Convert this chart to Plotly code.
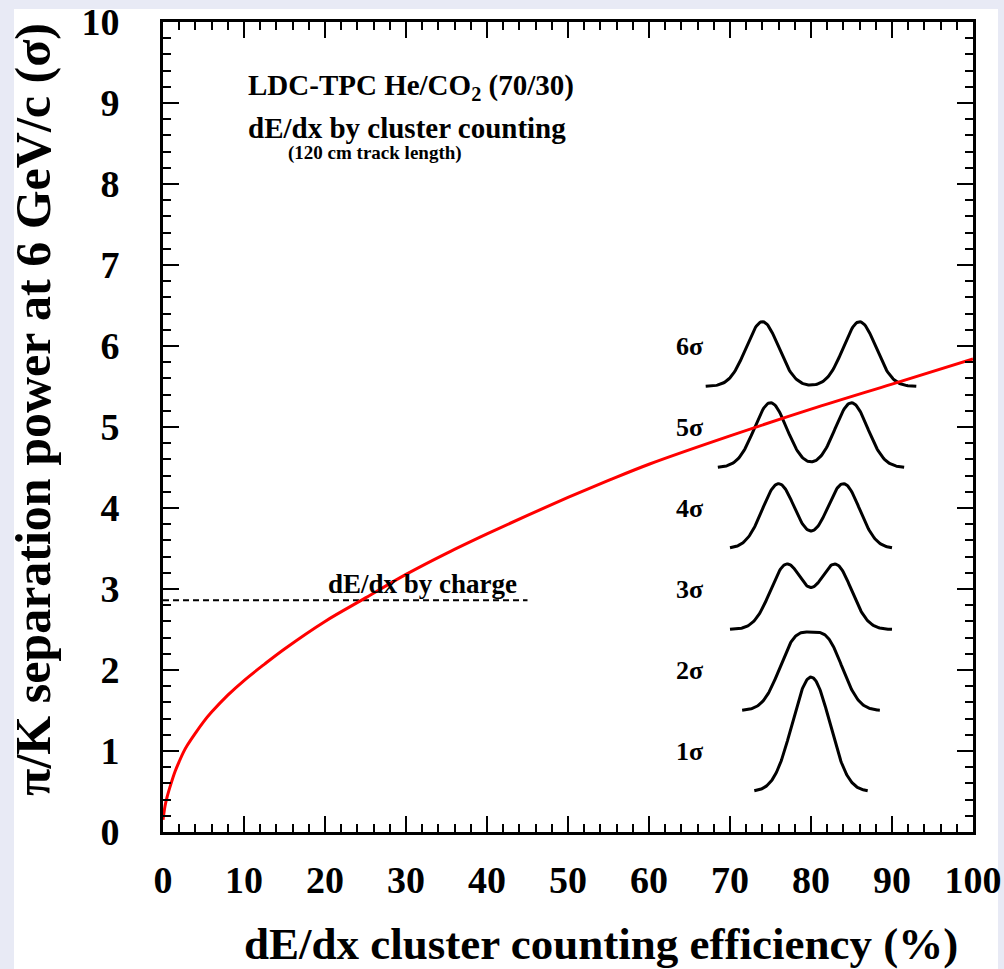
import numpy as np
import plotly.graph_objects as go

# ---- data ----
eff = [0, 0.25, 0.5, 1, 1.5, 2, 2.5, 3, 4, 5, 6, 8, 10, 12.5, 15, 20, 25, 30, 35, 40, 45, 50, 55, 60, 70, 80, 90, 100]
sep_power = [0.15, 0.32, 0.43, 0.60, 0.75, 0.87, 0.98, 1.07, 1.22, 1.36, 1.48, 1.69, 1.87, 2.07, 2.26, 2.60, 2.89, 3.18, 3.44, 3.68, 3.91, 4.13, 4.34, 4.54, 4.89, 5.22, 5.53, 5.84]

charge_x = [0, 45]
charge_y = [2.86, 2.86]

sigma_levels = [1, 2, 3, 4, 5, 6]          # separation in sigma for the pictograms
sigma_labels = ["1σ", "2σ", "3σ", "4σ", "5σ", "6σ"]
pict_halfwidth = [7, 8.5, 10, 10, 11.5, 13]  # extent of each pictogram (x units)

x_ticks = [0, 10, 20, 30, 40, 50, 60, 70, 80, 90, 100]
y_ticks = [0, 1, 2, 3, 4, 5, 6, 7, 8, 9, 10]

# ---- layout geometry ----
W, H = 1004, 969
L, R, T, B = 163, 31, 22, 137
PW, PH = W - L - R, H - T - B
def px(xp):  # pixel -> paper x
    return (xp - L) / PW
def py(yp):  # pixel -> paper y
    return (H - B - yp) / PH

FONT = "Liberation Serif"
fig = go.Figure()

# pictograms: two gaussians separated by n sigma
pict_center, pict_sig, pict_amp = 80.0, 2.0, 0.8
for n, hw in zip(sigma_levels, pict_halfwidth):
    u = np.linspace(-hw, hw, 200)
    half = n * pict_sig / 2
    yv = (n - 0.5) + pict_amp * (np.exp(-(u - half) ** 2 / (2 * pict_sig ** 2)) +
                                 np.exp(-(u + half) ** 2 / (2 * pict_sig ** 2)))
    fig.add_trace(go.Scatter(x=pict_center + u, y=yv, mode="lines",
                             line=dict(color="black", width=3), showlegend=False,
                             hoverinfo="skip"))

fig.add_trace(go.Scatter(x=charge_x, y=charge_y, mode="lines",
                         line=dict(color="black", width=2, dash="6px,4px"),
                         showlegend=False))
fig.add_trace(go.Scatter(x=eff, y=sep_power, mode="lines", line_shape="spline",
                         line=dict(color="#ff0000", width=3), showlegend=False))

ann = []
for n, lab in zip(sigma_levels, sigma_labels):
    ann.append(dict(x=65, y=n, xref="x", yref="y", text=lab, showarrow=False,
                    xanchor="center", yanchor="middle",
                    font=dict(family=FONT, size=26, color="black", weight="bold")))

ann += [
    dict(x=10.3, y=9.20, xref="x", yref="y", xanchor="left", yanchor="middle",
         text="LDC-TPC He/CO<sub>2</sub> (70/30)", showarrow=False,
         font=dict(family=FONT, size=29, color="black", weight="bold")),
    dict(x=10.3, y=8.69, xref="x", yref="y", xanchor="left", yanchor="middle",
         text="dE/dx by cluster counting", showarrow=False,
         font=dict(family=FONT, size=29, color="black", weight="bold")),
    dict(x=15.2, y=8.38, xref="x", yref="y", xanchor="left", yanchor="middle",
         text="(120 cm track length)", showarrow=False,
         font=dict(family=FONT, size=19, color="black", weight="bold")),
    dict(x=20.1, y=3.06, xref="x", yref="y", xanchor="left", yanchor="middle",
         text="dE/dx by charge", showarrow=False,
         font=dict(family=FONT, size=27, color="black", weight="bold")),
    dict(x=px(601), y=py(944), xref="paper", yref="paper", xanchor="center", yanchor="middle",
         text="dE/dx cluster counting efficiency (%)", showarrow=False,
         font=dict(family=FONT, size=45, color="black", weight="bold")),
    dict(x=px(33), y=py(410), xref="paper", yref="paper", xanchor="center", yanchor="middle",
         text="π/K separation power at 6 GeV/c (σ)", showarrow=False, textangle=-90,
         font=dict(family=FONT, size=50, color="black", weight="bold")),
]

axis_common = dict(showline=True, linecolor="black", linewidth=3, mirror="ticks",
                   ticks="inside", ticklen=16, tickwidth=2, tickcolor="black",
                   showgrid=False, zeroline=False, automargin=False,
                   tickfont=dict(family=FONT, size=38, color="black", weight="bold"))

fig.update_layout(
    width=W, height=H, margin=dict(l=L, r=R, t=T, b=B, autoexpand=False),
    paper_bgcolor="#e8eaf5", plot_bgcolor="white",
    xaxis=dict(range=[0, 100], tickvals=x_ticks, ticklabelstandoff=12,
               minor=dict(dtick=2, ticks="inside", ticklen=8, tickwidth=2, tickcolor="black"),
               **axis_common),
    yaxis=dict(range=[0, 10], tickvals=y_ticks, ticklabelstandoff=33,
               minor=dict(dtick=0.2, ticks="inside", ticklen=8, tickwidth=2, tickcolor="black"),
               **axis_common),
    annotations=ann,
    shapes=[dict(type="rect", xref="paper", yref="paper", x0=px(14), x1=px(998),
                 y0=py(975), y1=py(9), fillcolor="white", line=dict(width=0), layer="below")],
)

fig.write_html("out.html")
